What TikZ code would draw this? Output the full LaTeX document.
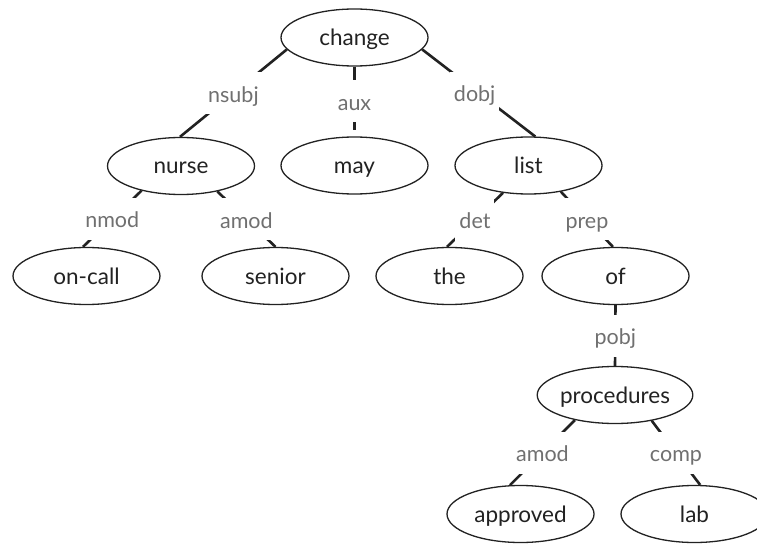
\documentclass[tikz,border=0pt]{standalone}
\usepackage{fontspec}
\setmainfont{Lato}
\usetikzlibrary{shapes.geometric}
\definecolor{ink}{HTML}{222222}
\definecolor{lblgray}{HTML}{707070}
\tikzset{
  word/.style={ellipse, draw=ink, line width=1.3pt, minimum width=147pt, minimum height=57pt,
    inner sep=0pt, text=ink, font=\fontsize{22.5}{26}\selectfont, text height=18pt, text depth=2pt},
  edge/.style={draw=ink, line width=2.6pt},
  elab/.style={fill=white, text=lblgray, font=\fontsize{21.5}{25}\selectfont, inner xsep=4pt,
    inner ysep=0pt, text height=20pt, text depth=2pt, minimum height=42pt}
}
\begin{document}
\begin{tikzpicture}[x=1pt,y=-1pt]
\useasboundingbox (0,0) rectangle (757,545);
\fill[white] (0,0) rectangle (757,545);
\node[word] (change) at (354.5,37.5) {change};
\node[word] (nurse) at (181,166) {nurse};
\node[word] (may) at (354.5,165.5) {may};
\node[word] (list) at (528.5,165.5) {list};
\node[word] (oncall) at (86.5,276) {on-call};
\node[word] (senior) at (275.5,276) {senior};
\node[word] (the) at (449.5,276) {the};
\node[word] (of) at (615.5,276) {of};
\node[word] (procedures) at (615,395) {procedures};
\node[word] (approved) at (520.5,514) {approved};
\node[word] (lab) at (694.5,514) {lab};

\draw[edge] (change.190) -- node[elab] {nsubj} (nurse.92);
\draw[edge, shorten >=6pt] (change.south) -- node[elab] {aux} (may.north);
\draw[edge] (change.350) -- node[elab, xshift=-4pt] {dobj} (list.77);
\draw[edge] (nurse.212) -- node[elab] {nmod} (oncall.97);
\draw[edge] (nurse.325) -- node[elab] {amod} (senior.90);
\draw[edge] (list.227) -- node[elab] {det} (the.95);
\draw[edge] (list.321) -- node[elab] {prep} (of.95);
\draw[edge] (of.south) -- node[elab] {pobj} (procedures.north);
\draw[edge] (procedures.212) -- node[elab] {amod} (approved.110);
\draw[edge] (procedures.325) -- node[elab] {comp} (lab.79);
\end{tikzpicture}
\end{document}
